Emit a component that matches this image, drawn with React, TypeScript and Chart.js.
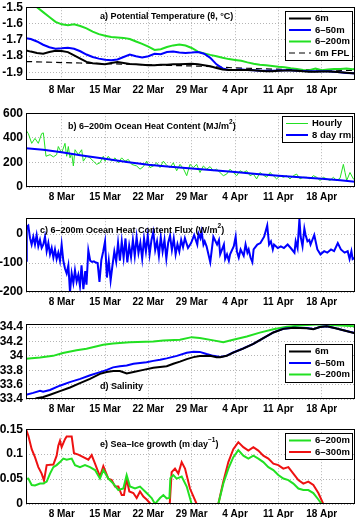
import React, { useEffect, useRef } from "react";
import { Chart, registerables } from "chart.js";
Chart.register(...registerables);

const FONT = "'Liberation Sans', Arial, Helvetica, sans-serif";

// x axis: days since 1 March
const xTickDays = [7, 14, 21, 28, 35, 42, 49];
const xTickLabels = ["8 Mar", "15 Mar", "22 Mar", "29 Mar", "4 Apr", "11 Apr", "18 Apr"];
const X_MIN = 1.23;
const X_MAX = 54.38;

// ---------- a) Potential temperature ----------
const daysA = [
  1.25, 2, 3, 4, 5, 6, 7, 8, 9, 10,
  11, 12, 13, 14, 15, 16, 17, 18, 19, 20,
  21, 22, 23, 24, 25, 26, 27, 28, 29, 30,
  31, 32, 33, 34, 35, 36, 37, 38, 39, 40,
  41, 42, 43, 44, 45, 46, 47, 48, 49, 50,
  51, 52, 53, 54, 54.4,
];
const theta6m = [
  -1.765, -1.772, -1.78, -1.785, -1.775, -1.767, -1.768, -1.775, -1.795, -1.815,
  -1.835, -1.843, -1.846, -1.85, -1.842, -1.836, -1.842, -1.848, -1.85, -1.852,
  -1.855, -1.855, -1.853, -1.852, -1.85, -1.85, -1.848, -1.846, -1.85, -1.856,
  -1.862, -1.872, -1.882, -1.885, -1.885, -1.884, -1.885, -1.887, -1.89, -1.892,
  -1.892, -1.89, -1.888, -1.888, -1.89, -1.893, -1.895, -1.895, -1.894, -1.894,
  -1.896, -1.899, -1.902, -1.905, -1.906,
];
const theta6to50 = [
  -1.69, -1.695, -1.71, -1.73, -1.745, -1.755, -1.752, -1.748, -1.755, -1.77,
  -1.79, -1.805, -1.815, -1.822, -1.825, -1.82, -1.805, -1.79, -1.8, -1.808,
  -1.8, -1.785, -1.788, -1.775, -1.772, -1.778, -1.78, -1.778, -1.775, -1.785,
  -1.81, -1.85, -1.875, -1.884, -1.884, -1.882, -1.884, -1.887, -1.889, -1.89,
  -1.89, -1.888, -1.886, -1.887, -1.889, -1.891, -1.893, -1.893, -1.892, -1.893,
  -1.895, -1.898, -1.903, -1.905, -1.905,
];
const theta6to200 = [
  -1.45, -1.47, -1.5, -1.53, -1.56, -1.59, -1.605, -1.61, -1.605, -1.615,
  -1.63, -1.65, -1.665, -1.675, -1.682, -1.685, -1.688, -1.695, -1.71, -1.725,
  -1.742, -1.762, -1.757, -1.744, -1.734, -1.728, -1.735, -1.75, -1.772, -1.783,
  -1.792, -1.8, -1.81, -1.818, -1.823, -1.828, -1.838, -1.847, -1.852, -1.856,
  -1.86, -1.865, -1.868, -1.874, -1.879, -1.884, -1.886, -1.876, -1.886, -1.882,
  -1.879, -1.878, -1.876, -1.88, -1.878,
];
const fplDays = [1.25, 10, 20, 30, 35, 40, 45, 54.4];
const fpl6m = [-1.833, -1.842, -1.852, -1.862, -1.872, -1.878, -1.882, -1.888];
const yTicksA = [-1.9, -1.8, -1.7, -1.6, -1.5];
const yLabelsA = ["-1.9", "-1.8", "-1.7", "-1.6", "-1.5"];

// ---------- b) Ocean heat content ----------
const hourlyDays = [
  1.23, 1.61, 2.15, 2.68, 3.22, 3.76, 4.03, 4.46, 5.11, 5.65,
  6.18, 6.45, 6.99, 7.53, 7.8, 8.07, 8.34, 8.61, 8.88, 9.15,
  9.68, 10.22, 10.49, 11.03, 11.57, 12.11, 12.65, 13.18, 13.72, 13.99,
  14.53, 15.07, 15.61, 16.15, 16.69, 17.22, 17.76, 18.3, 19.11, 19.65,
  20.19, 20.72, 21.26, 21.8, 22.34, 22.88, 23.42, 23.96, 24.49, 25.03,
  25.57, 26.11, 26.65, 27.19, 27.72, 28.26, 28.8, 29.34, 29.88, 30.42,
  30.96, 31.49, 32.03, 32.57, 33.11, 33.65, 34.19, 34.72, 35.26, 35.8,
  36.34, 36.88, 37.42, 37.96, 38.49, 39.03, 39.57, 40.11, 40.65, 41.19,
  41.72, 42.26, 42.8, 43.34, 43.88, 44.42, 44.96, 45.49, 46.03, 46.57,
  47.11, 47.65, 48.19, 48.73, 49.26, 49.8, 50.34, 50.88, 51.42, 51.96,
  52.5, 52.77, 53.04, 53.57, 54.11, 54.38,
];
const ohcHourly = [
  461, 434, 355, 395, 355, 434, 440, 250, 263, 245,
  263, 329, 276, 355, 250, 329, 237, 276, 171, 303,
  263, 303, 210, 250, 237, 210, 184, 197, 250, 210,
  250, 210, 237, 197, 237, 210, 224, 184, 171, 145,
  166, 210, 158, 171, 197, 158, 210, 176, 158, 197,
  132, 184, 150, 92, 184, 158, 184, 118, 171, 145,
  166, 132, 145, 118, 92, 105, 145, 118, 92, 132,
  118, 132, 92, 105, 66, 118, 97, 79, 118, 92,
  66, 92, 79, 92, 66, 92, 105, 66, 79, 79,
  66, 92, 79, 53, 79, 66, 53, 79, 53, 71,
  184, 118, 53, 118, 66, 53,
];
const rmDays = [1.23, 4, 7, 10, 14, 17.5, 21, 24.5, 28, 31.5, 35, 38.5, 42, 45.5, 49, 52, 54.38];
const ohc8dayRm = [316, 302, 282, 258, 229, 203, 180, 164, 150, 136, 121, 106, 92, 79, 67, 54, 42];
const yTicksB = [0, 200, 400, 600];
const yLabelsB = ["0", "200", "400", "600"];

// ---------- c) Ocean heat content flux ----------
const fluxDays = [
  1.25, 1.35, 1.6, 1.88, 2.14, 2.41, 2.68, 2.95, 3.22, 3.49,
  3.76, 4.03, 4.3, 4.57, 4.84, 5.11, 5.38, 5.65, 5.91, 6.18,
  6.45, 6.72, 6.99, 7.26, 7.53, 7.8, 8.07, 8.34, 8.61, 8.88,
  9.14, 9.41, 9.68, 9.95, 10.2, 10.5, 10.8, 11.0, 11.3, 11.6,
  11.9, 12.2, 12.5, 12.8, 13.1, 13.4, 13.7, 14.0, 14.3, 14.6,
  14.9, 15.2, 15.5, 15.8, 16.1, 16.4, 16.7, 17.0, 17.3, 17.6,
  17.9, 18.2, 18.5, 18.8, 19.1, 19.4, 19.7, 20.0, 20.3, 20.6,
  20.9, 21.2, 21.5, 21.8, 22.1, 22.4, 22.7, 23.0, 23.3, 23.6,
  23.9, 24.2, 24.5, 24.8, 25.1, 25.4, 25.7, 26.0, 26.3, 26.6,
  26.9, 27.4, 27.9, 28.4, 28.9, 29.1, 29.4, 29.6, 29.9, 30.1,
  30.4, 31.0, 31.5, 32.1, 32.4, 32.6, 33.2, 33.4, 33.7, 34.0,
  34.2, 34.8, 35.1, 35.3, 35.6, 35.9, 36.4, 36.7, 37.0, 37.2,
  37.5, 37.8, 38.0, 38.6, 39.1, 39.7, 40.2, 40.5, 40.8, 41.1,
  41.3, 41.9, 42.4, 42.9, 43.5, 44.0, 44.6, 44.8, 45.1, 45.4,
  45.6, 45.9, 46.2, 46.4, 46.7, 47.0, 47.2, 47.8, 48.3, 48.8,
  49.4, 49.9, 50.5, 51.0, 51.6, 52.1, 52.7, 53.2, 53.5, 53.8,
  54.0, 54.38,
];
const ohcFlux = [
  -92, 25, 30, -14, -36, -9, -36, -3, -42, -20,
  -48, -36, -9, -59, -31, -70, -48, -81, -53, -86,
  -64, -92, -36, -92, -119, -136, -108, -200, -136, -169,
  -125, -164, -141, -180, -108, -190, -128, -175, -56, -92,
  -96, -94, -98, -100, -165, -90, -60, -25, -150, -92,
  -160, -108, -60, -95, -30, -92, -25, -82, -15, -98,
  -40, -80, -20, -75, -10, -65, -30, -85, -15, -60,
  -5, -70, -20, 8, -55, -25, -75, -10, -60, -20,
  -85, -30, -5, -55, -15, -70, -35, -60, -20, -45,
  -14, -48, -31, -3, -36, 2, -14, 8, -36, -25,
  -42, -97, -9, -36, -20, -70, -36, -86, -70, -92,
  -70, -42, -9, -59, -81, -53, -75, -36, -64, -53,
  -81, -97, -53, -36, -31, -9, 30, -36, -25, -53,
  -36, -48, -42, -48, -36, -48, -64, -25, -48, 52,
  -9, -42, 19, -3, -25, -20, -36, -3, -53, -70,
  -59, -64, -53, -59, -31, -53, -64, -59, -86, -59,
  -86, -81,
];
const yTicksC = [-200, -100, 0];
const yLabelsC = ["-200", "-100", "0"];

// ---------- d) Salinity ----------
const sal6mDays = [
  1.23, 2.4, 2.95, 4.03, 5.11, 6.72, 8.34, 9.95, 11.57, 13.18,
  14.26, 15.34, 16.4, 17.5, 18.6, 20.2, 21.8, 23.96, 25.03, 26.1,
  27.2, 28.3, 29.3, 30.96, 32.0, 32.6, 33.65, 34.7, 36.3, 37.96,
  39.57, 41.2, 42.8, 44.4, 46.6, 47.65, 48.7, 49.8, 50.9, 52.5,
  54.38,
];
const sal6m = [
  33.37, 33.39, 33.41, 33.427, 33.46, 33.51, 33.56, 33.62, 33.68, 33.75,
  33.774, 33.79, 33.79, 33.755, 33.775, 33.805, 33.835, 33.855, 33.89, 33.92,
  33.955, 33.982, 33.998, 34.0, 33.982, 33.98, 34.0, 34.044, 34.1, 34.165,
  34.245, 34.325, 34.375, 34.39, 34.385, 34.37, 34.4, 34.41, 34.39, 34.355,
  34.315,
];
const sal50Days = [
  1.23, 2.4, 3.5, 4.0, 5.1, 6.7, 8.3, 10.0, 11.6, 13.2,
  14.3, 15.3, 16.4, 17.5, 18.6, 19.65, 20.7, 21.8, 22.9, 23.96,
  25.6, 27.2, 28.3, 29.3, 30.4, 31.5, 32.6, 33.65, 34.7, 36.3,
  37.96, 39.57, 41.2, 42.8, 44.4, 46.6, 47.65, 48.7, 49.8, 50.9,
  52.5, 54.38,
];
const sal6to50 = [
  33.46, 33.485, 33.515, 33.5, 33.526, 33.585, 33.635, 33.68, 33.73, 33.774,
  33.805, 33.84, 33.855, 33.865, 33.89, 33.9, 33.912, 33.93, 33.945, 33.965,
  34.0, 34.044, 34.058, 34.055, 34.025, 34.0, 33.985, 34.003, 34.046, 34.102,
  34.167, 34.247, 34.327, 34.377, 34.392, 34.387, 34.372, 34.402, 34.412, 34.392,
  34.357, 34.317,
];
const sal200Days = [
  1.23, 3.5, 5.6, 7.2, 9.4, 11.0, 13.7, 15.3, 18.0, 21.8,
  23.4, 26.1, 28.0, 29.3, 31.5, 33.1, 34.7, 36.9, 39.0, 41.2,
  43.4, 46.0, 48.7, 51.4, 54.38,
];
const sal6to200 = [
  33.96, 33.976, 34.0, 34.04, 34.078, 34.098, 34.155, 34.17, 34.19, 34.2,
  34.215, 34.224, 34.26, 34.247, 34.215, 34.19, 34.224, 34.27, 34.323, 34.37,
  34.405, 34.427, 34.44, 34.427, 34.41,
];
const yTicksD = [33.4, 33.6, 33.8, 34, 34.2, 34.4];
const yLabelsD = ["33.4", "33.6", "33.8", "34", "34.2", "34.4"];

// ---------- e) Sea-ice growth (null = no growth) ----------
const growth200Days = [
  1.23, 1.61, 2.15, 2.68, 3.49, 4.03, 4.57, 5.11, 5.65, 6.18,
  6.72, 7.26, 7.8, 8.61, 9.15, 9.95, 10.76, 11.57, 12.38, 13.18,
  13.72, 14.53, 15.34, 16.15, 16.95, 17.49, 18.03, 18.84, 19.65, 20.72,
  21.53, 22.07, 22.88, 23.42, 23.96, 24.4, 24.55, 25.03, 25.57, 26.38,
  27.19, 27.99, 30, 32.3, 33.11, 33.92, 34.72, 35.53, 36.34, 37.15,
  37.96, 38.76, 39.57, 40.38, 41.19, 41.99, 42.8, 43.61, 44.42, 45.23,
  46.03, 46.84, 47.65, 48.46, 49.0, 50,
];
const growth200 = [
  0.05, 0.051, 0.038, 0.037, 0.041, 0.041, 0.045, 0.061, 0.074, 0.078,
  0.084, 0.091, 0.089, 0.091, 0.078, 0.074, 0.078, 0.074, 0.068, 0.051,
  0.068, 0.051, 0.041, 0.028, 0.031, 0.058, 0.035, 0.031, 0.035, 0.022,
  0.012, 0, 0.012, 0.018, 0.011, 0.012, 0.052, 0.058, 0.051, 0.055,
  0.035, 0, null, 0, 0.041, 0.071, 0.094, 0.108, 0.097, 0.091,
  0.097, 0.091, 0.084, 0.074, 0.068, 0.058, 0.051, 0.048, 0.041, 0.031,
  0.028, 0.028, 0.022, 0.009, 0, null,
];
const growth300Days = [
  1.23, 1.61, 2.15, 2.68, 3.22, 3.76, 4.14, 4.57, 5.65, 6.18,
  6.45, 6.72, 6.99, 7.53, 7.8, 8.61, 8.98, 9.68, 10.49, 11.3,
  11.84, 12.38, 13.18, 13.72, 14.53, 15.07, 15.61, 16.15, 16.69, 17.06,
  17.49, 17.92, 18.57, 19.11, 19.65, 20.19, 20.72, 21.37, 23, 24.45,
  24.76, 25.3, 25.84, 26.38, 26.92, 27.72, 28.8, 30, 32.3, 33.11,
  33.92, 34.72, 35.53, 36.34, 37.15, 37.96, 38.76, 39.57, 40.38, 41.19,
  41.99, 42.8, 43.61, 44.42, 45.23, 46.03, 46.84, 47.65, 48.46, 49.26,
  50,
];
const growth300 = [
  0.15, 0.137, 0.11, 0.094, 0.074, 0.061, 0.047, 0.078, 0.079, 0.097,
  0.117, 0.127, 0.114, 0.13, 0.1355, 0.1355, 0.102, 0.099, 0.094, 0.089,
  0.098, 0.081, 0.055, 0.076, 0.051, 0.048, 0.035, 0.035, 0.018, 0.018,
  0.051, 0.025, 0.022, 0.012, 0.025, 0.015, 0.009, 0, null, 0,
  0.064, 0.071, 0.061, 0.084, 0.071, 0.031, 0, null, 0, 0.045,
  0.084, 0.11, 0.124, 0.114, 0.107, 0.114, 0.107, 0.097, 0.091, 0.081,
  0.078, 0.071, 0.074, 0.061, 0.048, 0.041, 0.045, 0.038, 0.022, 0,
  null,
];
const yTicksE = [0, 0.05, 0.1, 0.15];
const yLabelsE = ["0", "0.05", "0.1", "0.15"];

// ---------- colours ----------
const BLACK = "#000000";
const BLUE = "#0000ff";
const GREEN = "#22e022";
const RED = "#ee1111";

type Part = [string, boolean];

const pts = (xs: number[], ys: (number | null)[]) => xs.map((x, i) => ({ x, y: ys[i] }));

const line = (label: string | undefined, xs: number[], ys: (number | null)[], color: string, width: number, dash?: number[]) => ({
  label,
  data: pts(xs, ys),
  borderColor: color,
  backgroundColor: color,
  borderWidth: width,
  borderDash: dash || [],
  pointRadius: 0,
  tension: 0,
  fill: false,
  spanGaps: false,
  clip: 0,
});

interface PanelCfg {
  top: number;
  height: number;
  yMin: number;
  yMax: number;
  yTicks: number[];
  yLabels: string[];
  datasets: any[];
  title: Part[];
  titleX: number;
  titleY: number;
  legendTop?: number;
  legendLeft?: number;
  legendWidth?: number;
  legendReverse?: boolean;
}

const panels: PanelCfg[] = [
  {
    top: -3, height: 99, yMin: -1.946, yMax: -1.5, yTicks: yTicksA, yLabels: yLabelsA,
    datasets: [
      line("6m", daysA, theta6m, BLACK, 2),
      line("6\u201350m", daysA, theta6to50, BLUE, 2),
      line("6\u2013200m", daysA, theta6to200, GREEN, 2),
      line("6m FPL", fplDays, fpl6m, BLACK, 1.2, [6, 4]),
    ],
    title: [["a) Potential Temperature (\u03b8, \u00b0C)", false]],
    titleX: 74, titleY: 9, legendTop: 4, legendLeft: 285, legendWidth: 67,
  },
  {
    top: 103, height: 100, yMin: 0, yMax: 600, yTicks: yTicksB, yLabels: yLabelsB,
    datasets: [
      line("8 day rm", rmDays, ohc8dayRm, BLUE, 2),
      line("Hourly", hourlyDays, ohcHourly, GREEN, 1),
    ],
    title: [["b) 6\u2013200m Ocean Heat Content (MJ/m", false], ["2", true], [")", false]],
    titleX: 42, titleY: 13, legendTop: 2.5, legendLeft: 282, legendWidth: 70, legendReverse: true,
  },
  {
    top: 208, height: 100, yMin: -200, yMax: 55, yTicks: yTicksC, yLabels: yLabelsC,
    datasets: [line(undefined, fluxDays, ohcFlux, BLUE, 2)],
    title: [["c) 6\u2013200m Ocean Heat Content Flux (W/m", false], ["2", true], [")", false]],
    titleX: 14, titleY: 12,
  },
  {
    top: 314, height: 101, yMin: 33.4, yMax: 34.44, yTicks: yTicksD, yLabels: yLabelsD,
    datasets: [
      line("6m", sal6mDays, sal6m, BLACK, 2),
      line("6\u201350m", sal50Days, sal6to50, BLUE, 2),
      line("6\u2013200m", sal200Days, sal6to200, GREEN, 2),
    ],
    title: [["d) Salinity", false]],
    titleX: 74, titleY: 62, legendTop: 20, legendLeft: 285, legendWidth: 67,
  },
  {
    top: 419, height: 101, yMin: 0, yMax: 0.15, yTicks: yTicksE, yLabels: yLabelsE,
    datasets: [
      line("6\u2013200m", growth200Days, growth200, GREEN, 2),
      line("6\u2013300m", growth300Days, growth300, RED, 2),
    ],
    title: [["e) Sea\u2013Ice growth (m day", false], ["\u22121", true], [")", false]],
    titleX: 74, titleY: 15, legendTop: 4, legendLeft: 285, legendWidth: 67,
  },
];

function decoPlugin(cfg: PanelCfg) {
  return {
    id: "panelDeco",
    afterDraw(chart: any) {
      const ctx: CanvasRenderingContext2D = chart.ctx;
      const a = chart.chartArea;
      ctx.save();
      // title
      ctx.fillStyle = "#000";
      ctx.textBaseline = "middle";
      ctx.textAlign = "left";
      let x = a.left + cfg.titleX;
      const y = a.top + cfg.titleY;
      for (const [t, sup] of cfg.title) {
        ctx.font = `bold ${sup ? 6.5 : 9}px ${FONT}`;
        ctx.fillText(t, x, sup ? y - 3.5 : y);
        x += ctx.measureText(t).width;
      }
      // legend
      if (cfg.legendTop != null) {
        const items = chart.data.datasets.filter((d: any) => d.label);
        const order = cfg.legendReverse ? items.slice().reverse() : items;
        const rh = 11.5;
        const bx = cfg.legendLeft as number;
        const bw = cfg.legendWidth as number;
        const by = Math.round(a.top + cfg.legendTop);
        const bh = Math.round(order.length * rh + 3);
        ctx.fillStyle = "#fff";
        ctx.fillRect(bx, by, bw, bh);
        ctx.strokeStyle = "#000";
        ctx.lineWidth = 1;
        ctx.setLineDash([]);
        ctx.strokeRect(bx + 0.5, by + 0.5, bw, bh);
        order.forEach((d: any, i: number) => {
          const yy = by + 7.5 + i * rh;
          ctx.beginPath();
          ctx.strokeStyle = d.borderColor;
          ctx.lineWidth = d.borderWidth;
          ctx.setLineDash(d.borderDash || []);
          ctx.moveTo(bx + 4, yy);
          ctx.lineTo(bx + 26, yy);
          ctx.stroke();
          ctx.setLineDash([]);
          ctx.fillStyle = "#000";
          ctx.font = `bold 9.5px ${FONT}`;
          ctx.fillText(d.label, bx + 30, yy);
        });
      }
      // frame
      ctx.strokeStyle = "#000";
      ctx.lineWidth = 1;
      ctx.setLineDash([]);
      ctx.strokeRect(
        Math.round(a.left) + 0.5,
        Math.round(a.top) + 0.5,
        Math.round(a.right - a.left) - 1,
        Math.round(a.bottom - a.top) - 1
      );
      ctx.restore();
    },
  };
}

function Panel({ cfg }: { cfg: PanelCfg }) {
  const ref = useRef<HTMLCanvasElement | null>(null);
  useEffect(() => {
    if (!ref.current) return;
    const chart = new Chart(ref.current, {
      type: "line",
      data: { datasets: cfg.datasets },
      options: {
        responsive: false,
        maintainAspectRatio: false,
        animation: false,
        devicePixelRatio: 1,
        events: [],
        layout: { padding: { left: 0, right: 3, top: 8, bottom: 0 } },
        plugins: { legend: { display: false }, tooltip: { enabled: false }, title: { display: false } },
        scales: {
          x: {
            type: "linear",
            min: X_MIN,
            max: X_MAX,
            afterBuildTicks: (s: any) => {
              s.ticks = xTickDays.map((v) => ({ value: v }));
            },
            afterFit: (s: any) => {
              s.height = 16;
            },
            ticks: {
              autoSkip: false,
              maxRotation: 0,
              padding: 4,
              color: "#000",
              font: { family: FONT, size: 10, weight: "bold" },
              callback: (_v: any, i: number) => xTickLabels[i],
            },
            grid: { color: "#b4b4b4", lineWidth: 1, drawTicks: false },
            border: { display: false, dash: [1, 2] },
          },
          y: {
            type: "linear",
            min: cfg.yMin,
            max: cfg.yMax,
            afterBuildTicks: (s: any) => {
              s.ticks = cfg.yTicks.map((v) => ({ value: v }));
            },
            afterFit: (s: any) => {
              s.width = 26;
            },
            ticks: {
              autoSkip: false,
              padding: 3,
              color: "#000",
              font: { family: FONT, size: 12, weight: "bold" },
              callback: (_v: any, i: number) => cfg.yLabels[i],
            },
            grid: { color: "#b4b4b4", lineWidth: 1, drawTicks: false },
            border: { display: false, dash: [1, 2] },
          },
        },
      } as any,
      plugins: [decoPlugin(cfg)],
    });
    return () => chart.destroy();
  }, []);
  return (
    <canvas
      ref={ref}
      width={358}
      height={cfg.height}
      style={{ position: "absolute", left: 0, top: cfg.top, width: 358, height: cfg.height }}
    />
  );
}

export default function App() {
  return (
    <div
      style={{
        position: "fixed",
        left: 0,
        top: 0,
        width: 358,
        height: 518,
        background: "#fff",
        overflow: "hidden",
      }}
    >
      {panels.map((p, i) => (
        <Panel key={i} cfg={p} />
      ))}
    </div>
  );
}
